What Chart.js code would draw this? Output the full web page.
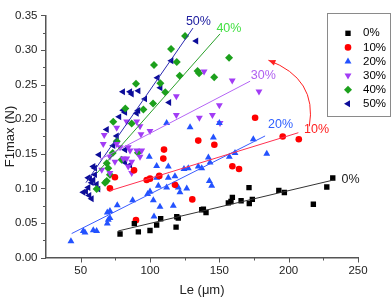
<!DOCTYPE html>
<html>
<head>
<meta charset="utf-8">
<script src="https://cdn.jsdelivr.net/npm/chart.js@4"></script>
<style>
  body { margin: 0; background: #fff; }
  #wrap { width: 392px; height: 299px; }
</style>
</head>
<body>
<div id="wrap"><canvas id="chart" width="392" height="299"></canvas></div>
<script>
const seriesNames = ['0%', '10%', '20%', '30%', '40%', '50%'];

// Le (um) / F1max (N) per series
const le0 = [78.4, 88.7, 91.6, 100, 104.8, 107.7, 118.8, 119.3, 120.4, 138.5, 137.3, 140.4, 156.5, 158.4, 159.4, 165.7, 171.4, 171.6, 173.8, 192.9, 196.9, 217.8, 227.5, 231.8];
const f0 = [0.034, 0.049, 0.037, 0.039, 0.047, 0.056, 0.044, 0.059, 0.057, 0.070, 0.069, 0.065, 0.079, 0.081, 0.087, 0.082, 0.101, 0.078, 0.084, 0.097, 0.094, 0.077, 0.102, 0.115];

const le1 = [71.1, 74.7, 89.9, 88.5, 97.6, 100, 106.7, 109.6, 110.1, 118, 130.5, 134.8, 146.4, 159.4, 164.2, 175.8, 195.7, 207.3];
const f1 = [0.100, 0.116, 0.054, 0.126, 0.112, 0.114, 0.118, 0.143, 0.156, 0.105, 0.084, 0.169, 0.163, 0.132, 0.128, 0.202, 0.175, 0.171];

const le2 = [43, 51.9, 53.1, 59.1, 61.5, 69.2, 71.1, 69.9, 71.1, 69.2, 76.4, 87.5, 98.3, 100, 102.4, 99.5, 106, 104.8, 112, 113.2, 107.2, 102.9, 113.2, 118, 120.4, 116.8, 121.6, 126.5, 124.5, 134.8, 137.3, 104.8, 127.6, 112, 128.9, 150, 145.7, 142.1, 143.3, 157.2, 161.3, 174.5, 184.2, 142.8, 144.5];
const f2 = [0.0235, 0.0384, 0.036, 0.0394, 0.0384, 0.0649, 0.0673, 0.0547, 0.057, 0.0492, 0.0757, 0.0827, 0.0919, 0.0953, 0.0827, 0.1455, 0.1036, 0.1152, 0.1013, 0.1152, 0.0733, 0.0594, 0.1316, 0.1176, 0.1013, 0.0747, 0.0943, 0.0999, 0.1278, 0.1316, 0.1292, 0.1324, 0.1292, 0.1944, 0.1883, 0.1944, 0.1735, 0.1446, 0.1372, 0.1455, 0.151, 0.1711, 0.1501, 0.1106, 0.1036];

const le3 = [66.3, 67, 76, 83.2, 90.4, 92.8, 93.5, 100, 76, 78.4, 84.3, 85.6, 90.4, 94, 92.8, 71.1, 74.7, 80.7, 83.2, 86.8, 84.3, 86.8, 65.2, 71.1, 119, 119, 135.6, 145, 150, 150.5, 139, 159.3, 178.6];
const f3 = [0.1641, 0.1771, 0.1874, 0.1966, 0.1966, 0.1897, 0.1781, 0.1827, 0.1641, 0.1595, 0.1595, 0.1547, 0.1547, 0.1547, 0.1455, 0.1455, 0.1385, 0.1432, 0.1432, 0.1385, 0.1316, 0.1222, 0.1268, 0.1222, 0.233, 0.206, 0.2022, 0.206, 0.22, 0.1944, 0.2689, 0.2559, 0.24];

const le4 = [125.3, 115.2, 119.3, 102.9, 121.4, 89.9, 107.5, 111, 102.2, 82.2, 95.2, 73.5, 86.8, 76, 91.3, 73.1, 79.6, 68.8, 69.9, 71.1, 68.8, 61.5, 157, 134.3, 135.4, 146.3, 67.6];
const f4 = [0.3201, 0.3014, 0.2828, 0.2782, 0.2629, 0.2511, 0.2518, 0.239, 0.2225, 0.2154, 0.2141, 0.1962, 0.1937, 0.1679, 0.1513, 0.151, 0.1413, 0.1362, 0.1292, 0.1198, 0.1106, 0.0989, 0.2886, 0.2696, 0.2665, 0.2605, 0.1082];

const le5 = [133.3, 115.4, 105.4, 107.5, 80.5, 85.6, 86.8, 91.6, 96.4, 113.8, 80.7, 82, 91.5, 90.4, 77.8, 68.8, 76, 82, 63.2, 73.5, 82, 85.6, 59.1, 60.3, 56.7, 59.1, 60.3, 55.5, 57.9, 61.5, 55.5, 62.7, 51.9, 56.2, 57.9, 53.8];
const f5 = [0.3131, 0.2844, 0.2598, 0.2453, 0.2395, 0.2395, 0.2363, 0.2409, 0.2293, 0.2242, 0.213, 0.2098, 0.2125, 0.2084, 0.2033, 0.185, 0.1757, 0.1557, 0.1485, 0.1617, 0.1372, 0.1338, 0.1316, 0.1292, 0.1138, 0.112, 0.1198, 0.1152, 0.1082, 0.1059, 0.1013, 0.0989, 0.0943, 0.0897, 0.0849, 0.0953];

// linear fit end points
const fitLe0 = [77.1, 232.3], fitF0 = [0.0384, 0.112];
const fitLe1 = [71.1, 207], fitF1 = [0.0966, 0.1804];
const fitLe2 = [43.5, 183], fitF2 = [0.0346, 0.1757];
const fitLe3 = [63.9, 172.2], fitF3 = [0.1418, 0.2549];
const fitLe4 = [61.8, 150.5], fitF4 = [0.1222, 0.3233];
const fitLe5 = [53.8, 131], fitF5 = [0.1082, 0.3317];

const xTickLabels = [50, 100, 150, 200, 250];
const yTickLabels = ['0.00', '0.05', '0.10', '0.15', '0.20', '0.25', '0.30', '0.35'];

// where the % labels and the red arrow sit, in data units
const labelLe = [244.7, 220.1, 194.2, 181.7, 156.9, 134.9];
const labelF = [0.1128, 0.1846, 0.192, 0.263, 0.3317, 0.341];
const arrowLe = [214.9, 220.8, 185.4];
const arrowF = [0.1897, 0.2584, 0.2852];

const FONT = "'Liberation Sans', Arial, sans-serif";

const styles = [
  { color: '#000000', line: '#333333', text: '#222222', pointStyle: 'rect', rotation: 0, radius: 3.8 },
  { color: '#ff0000', line: '#ff3050', text: '#ff2020', pointStyle: 'circle', rotation: 0, radius: 3.3 },
  { color: '#2352ff', line: '#3a5cff', text: '#3060ff', pointStyle: 'triangle', rotation: 0, radius: 4 },
  { color: '#a23cf5', line: '#b565f5', text: '#b060f0', pointStyle: 'triangle', rotation: 180, radius: 4 },
  { color: '#1ca01c', line: '#2aa02a', text: '#44e044', pointStyle: 'rectRot', rotation: 0, radius: 4 },
  { color: '#0c0c99', line: '#2a2ab0', text: '#2020a0', pointStyle: 'triangle', rotation: -90, radius: 4 }
];

const xs = [le0, le1, le2, le3, le4, le5];
const ys = [f0, f1, f2, f3, f4, f5];
const fitXs = [fitLe0, fitLe1, fitLe2, fitLe3, fitLe4, fitLe5];
const fitYs = [fitF0, fitF1, fitF2, fitF3, fitF4, fitF5];

function pairs(a, b) {
  return a.map((v, i) => ({ x: v, y: b[i] }));
}

const datasets = [];
seriesNames.forEach((name, i) => {
  const s = styles[i];
  datasets.push({
    type: 'scatter',
    label: name,
    data: pairs(xs[i], ys[i]),
    pointStyle: s.pointStyle,
    rotation: s.rotation,
    pointRadius: s.radius,
    backgroundColor: s.color,
    borderColor: s.color,
    borderWidth: 0,
    order: 2
  });
  datasets.push({
    type: 'line',
    label: name + ' fit',
    data: pairs(fitXs[i], fitYs[i]),
    borderColor: s.line,
    borderWidth: 1,
    pointRadius: 0,
    fill: false,
    order: 1
  });
});

function drawMarker(ctx, s, x, y) {
  ctx.save();
  ctx.fillStyle = s.color;
  ctx.strokeStyle = s.color;
  ctx.lineWidth = 0;
  Chart.helpers.drawPoint(ctx, { pointStyle: s.pointStyle, rotation: s.rotation, radius: s.radius, borderWidth: 0 }, x, y);
  ctx.restore();
}

const decorations = {
  id: 'decorations',
  afterDraw(chart) {
    const ctx = chart.ctx;
    const xScale = chart.scales.x;
    const yScale = chart.scales.y;
    const area = chart.chartArea;

    // tick marks (major longer, minor shorter), outside the axes
    ctx.save();
    ctx.strokeStyle = '#555';
    ctx.lineWidth = 1;
    xScale.ticks.forEach(t => {
      if (t.value <= xScale.min) return;
      const px = Math.round(xScale.getPixelForValue(t.value)) + 0.5;
      const len = xTickLabels.includes(t.value) ? 5 : 3;
      ctx.beginPath();
      ctx.moveTo(px, area.bottom);
      ctx.lineTo(px, area.bottom + len);
      ctx.stroke();
    });
    yScale.ticks.forEach(t => {
      const py = Math.round(yScale.getPixelForValue(t.value)) + 0.5;
      const major = Math.round(t.value * 1000) % 50 === 0;
      const len = major ? 5 : 3;
      ctx.beginPath();
      ctx.moveTo(area.left, py);
      ctx.lineTo(area.left - len, py);
      ctx.stroke();
    });
    ctx.restore();

    // series labels
    ctx.save();
    ctx.font = '12.5px ' + FONT;
    ctx.textAlign = 'center';
    ctx.textBaseline = 'middle';
    seriesNames.forEach((name, i) => {
      ctx.fillStyle = styles[i].text;
      ctx.fillText(name, xScale.getPixelForValue(labelLe[i]), yScale.getPixelForValue(labelF[i]));
    });
    ctx.restore();

    // curved red arrow
    const p0 = { x: xScale.getPixelForValue(arrowLe[0]), y: yScale.getPixelForValue(arrowF[0]) };
    const c = { x: xScale.getPixelForValue(arrowLe[1]), y: yScale.getPixelForValue(arrowF[1]) };
    const p2 = { x: xScale.getPixelForValue(arrowLe[2]), y: yScale.getPixelForValue(arrowF[2]) };
    ctx.save();
    ctx.strokeStyle = '#ff2020';
    ctx.fillStyle = '#ff2020';
    ctx.lineWidth = 1;
    ctx.beginPath();
    ctx.moveTo(p0.x, p0.y);
    ctx.quadraticCurveTo(c.x, c.y, p2.x, p2.y);
    ctx.stroke();
    const ang = Math.atan2(p2.y - c.y, p2.x - c.x);
    const L = 7, W = 3;
    ctx.beginPath();
    ctx.moveTo(p2.x, p2.y);
    ctx.lineTo(p2.x - L * Math.cos(ang) + W * Math.sin(ang), p2.y - L * Math.sin(ang) - W * Math.cos(ang));
    ctx.lineTo(p2.x - L * Math.cos(ang) - W * Math.sin(ang), p2.y - L * Math.sin(ang) + W * Math.cos(ang));
    ctx.closePath();
    ctx.fill();
    ctx.restore();

    // legend box
    const bx = 327.5, by = 13.5, bw = 63, bh = 103;
    ctx.save();
    ctx.fillStyle = '#fff';
    ctx.fillRect(bx, by, bw, bh);
    ctx.strokeStyle = '#8a8a8a';
    ctx.lineWidth = 1;
    ctx.strokeRect(bx, by, bw, bh);
    ctx.font = '11.5px ' + FONT;
    ctx.textBaseline = 'middle';
    ctx.textAlign = 'left';
    ctx.fillStyle = '#000';
    seriesNames.forEach((name, i) => {
      const ry = 33.3 + i * 14.1;
      drawMarker(ctx, styles[i], 348, ry);
      ctx.fillStyle = '#000';
      ctx.fillText(name, 363, ry);
    });
    ctx.restore();
  }
};

new Chart(document.getElementById('chart'), {
  type: 'scatter',
  data: { datasets: datasets },
  options: {
    responsive: false,
    animation: false,
    layout: { padding: { top: 6, right: 34, left: 0, bottom: 0 } },
    plugins: {
      legend: { display: false },
      tooltip: { enabled: false }
    },
    scales: {
      x: {
        type: 'linear',
        min: 25,
        max: 250,
        grid: { display: false, drawTicks: false },
        border: { display: true, color: '#555', width: 1.5 },
        ticks: {
          stepSize: 25,
          autoSkip: false,
          maxRotation: 0,
          padding: 6,
          color: '#222',
          font: { family: FONT, size: 11.5 },
          callback: v => xTickLabels.includes(v) ? String(v) : ''
        },
        title: {
          display: true,
          text: 'Le (\u03bcm)',
          color: '#222',
          font: { family: FONT, size: 13 },
          padding: { top: 0, bottom: 1 }
        },
        afterFit: s => { s.height = 41.5; }
      },
      y: {
        type: 'linear',
        min: 0,
        max: 0.35,
        grid: { display: false, drawTicks: false },
        border: { display: true, color: '#555', width: 1.5 },
        ticks: {
          stepSize: 0.025,
          autoSkip: false,
          padding: 8.5,
          color: '#222',
          font: { family: FONT, size: 11.5 },
          callback: v => {
            const lbl = v.toFixed(2);
            return (Math.round(v * 1000) % 50 === 0 && yTickLabels.includes(lbl)) ? lbl : '';
          }
        },
        title: {
          display: true,
          text: 'F1max (N)',
          color: '#222',
          font: { family: FONT, size: 13 },
          padding: { top: 3, bottom: 0 }
        },
        afterFit: s => { s.width = 46; }
      }
    }
  },
  plugins: [decorations]
});
</script>
</body>
</html>
